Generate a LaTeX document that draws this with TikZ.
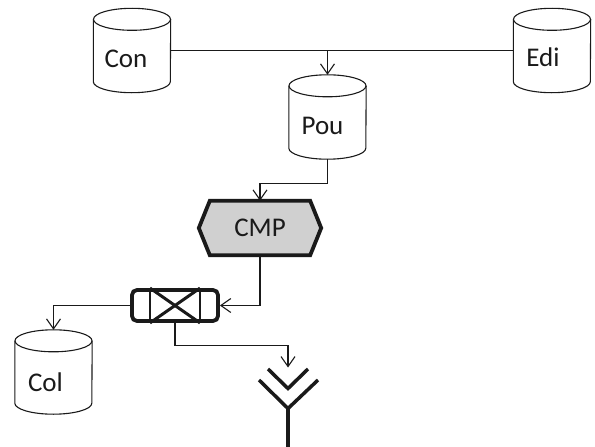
\documentclass[tikz,border=0pt]{standalone}
\usepackage{fontspec}
\setmainfont{Carlito}
\usetikzlibrary{arrows.meta,backgrounds}
\definecolor{ink}{HTML}{1A1A1A}
\definecolor{cmpfill}{HTML}{D0D0D0}
\begin{document}
\begin{tikzpicture}[x=1pt,y=1pt,
  thinline/.style={draw=ink,line width=1.1pt},
  conn/.style={draw=ink,line width=1.1pt,-{Straight Barb[length=10pt,width=14pt,line width=1.1pt]}},
  thickline/.style={draw=ink,line width=3.8pt},
  store/.style={rectangle,inner sep=0pt,minimum width=77pt,minimum height=84pt},
  lbl/.style={font=\fontsize{27}{30}\selectfont,text=ink}]
\useasboundingbox (0,0) rectangle (595,-447);
% cylinders
\node[store,label={[lbl,xshift=-6pt,yshift=-8pt]center:Con}] (con) at (132,-50.5) {};
\node[store,label={[lbl,xshift=-9pt,yshift=-7pt]center:Edi}] (edi) at (552,-50.5) {};
\node[store,label={[lbl,xshift=-5pt,yshift=-9pt]center:Pou}] (pou) at (327.5,-117) {};
\node[store,label={[lbl,xshift=-8pt,yshift=-10pt]center:Col}] (col) at (53.5,-372) {};
\foreach \n in {con,edi,pou,col}{
  \draw[thinline] ([yshift=-11pt]\n.north) ellipse[x radius=38.5pt,y radius=11pt];
  \draw[thinline] ([yshift=-11pt]\n.north west) -- ([yshift=11pt]\n.south west)
     arc[start angle=180,end angle=360,x radius=38.5pt,y radius=11pt]
     -- ([yshift=-11pt]\n.north east);
}
% CMP
\node[rectangle,inner sep=0pt,minimum width=100pt,minimum height=54pt,lbl] (cmp) at (260,-228) {CMP};
\begin{pgfonlayer}{background}
\fill[cmpfill] (cmp.north west) -- (cmp.north east) -- ([xshift=11pt]cmp.east) -- (cmp.south east)
  -- (cmp.south west) -- ([xshift=-11pt]cmp.west) -- cycle;
\end{pgfonlayer}
\draw[thickline,line join=miter] (cmp.north west) -- (cmp.north east) -- ([xshift=11pt]cmp.east) -- (cmp.south east)
  -- (cmp.south west) -- ([xshift=-11pt]cmp.west) -- cycle;
% valve
\node[rectangle,inner sep=0pt,minimum width=86pt,minimum height=31pt,rounded corners=5pt,thickline] (valve) at (175,-305.5) {};
\draw[thickline,line width=2.8pt] ([xshift=-25pt]valve.north) -- ([xshift=-25pt]valve.south);
\draw[thickline,line width=2.8pt] ([xshift=25pt]valve.north) -- ([xshift=25pt]valve.south);
\draw[thickline,line width=3pt] ([xshift=-25pt]valve.north) -- ([xshift=25pt]valve.south);
\draw[thickline,line width=3pt] ([xshift=25pt]valve.north) -- ([xshift=-25pt]valve.south);
% antenna
\coordinate (ant) at (288,-367.5);
\draw[thickline,line width=3.5pt] ([shift={(-20pt,-1.5pt)}]ant) -- ([yshift=-21pt]ant) -- ([shift={(20pt,-1.5pt)}]ant);
\draw[thickline,line width=3.5pt] ([shift={(-29pt,-12.5pt)}]ant) -- ([yshift=-41pt]ant) -- ([shift={(30pt,-12.5pt)}]ant);
\draw[thickline,line width=3.5pt] ([yshift=-41pt]ant) -- (288,-447);
% connectors
\draw[thinline] (con.east) -- (edi.west);
\draw[conn] (con.east -| pou.north) -- (pou.north);
\draw[conn] (pou.south) -- ++(0,-24pt) -| (cmp.north);
\draw[conn] (cmp.south) |- (valve.east);
\draw[conn] (valve.west) -| (col.north);
\draw[conn] (valve.south) -- ++(0,-23pt) -| (ant);
\end{tikzpicture}
\end{document}
